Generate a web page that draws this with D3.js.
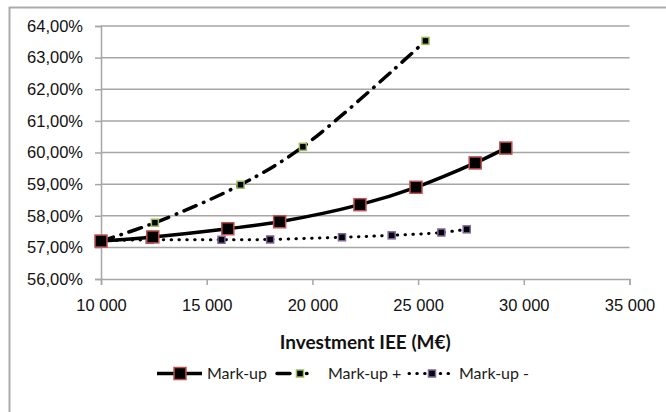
<!DOCTYPE html>
<html>
<head>
<meta charset="utf-8">
<script src="https://cdn.jsdelivr.net/npm/d3@7"></script>
<style>
  html, body { margin: 0; padding: 0; background: #fff; }
  svg { display: block; }
</style>
</head>
<body>
<svg id="chart" width="666" height="412"></svg>
<script>
// Investment (M€) and mark-up rates for each scenario
const markupX      = [10000, 12450, 16000, 18450, 22250, 24900, 27700, 29150];
const markupY      = [0.5720, 0.5733, 0.5759, 0.5781, 0.5835, 0.5890, 0.5967, 0.6014];
const markupPlusX  = [10000, 12550, 16600, 19550, 25350];
const markupPlusY  = [0.5720, 0.5778, 0.5898, 0.6018, 0.6353];
const markupMinusX = [10000, 12300, 15700, 18000, 21400, 23750, 26100, 27300];
const markupMinusY = [0.5721, 0.5724, 0.5724, 0.5725, 0.5732, 0.5738, 0.5747, 0.5757];

const xTicks = [10000, 15000, 20000, 25000, 30000, 35000];
const yTicks = [0.56, 0.57, 0.58, 0.59, 0.60, 0.61, 0.62, 0.63, 0.64];
const seriesNames = ["Mark-up", "Mark-up +", "Mark-up -"];
const xTitle = "Investment IEE (M€)";

const svg = d3.select("#chart");

const x = d3.scaleLinear().domain([10000, 35000]).range([101, 629.5]);
const y = d3.scaleLinear().domain([0.56, 0.64]).range([279, 26]);

const frFmt = d3.formatLocale({ decimal: ",", thousands: "\u00a0", grouping: [3], currency: ["", "€"] });
const pctFmt = frFmt.format(".2%");
const numFmt = frFmt.format(",d");

// outer frame (top and left edges)
svg.append("path")
  .attr("d", "M9.5,412 L9.5,7.5 L666,7.5")
  .attr("fill", "none").attr("stroke", "#ababab").attr("stroke-width", 2);

// horizontal gridlines
svg.append("g").selectAll("line").data(yTicks.slice(1)).join("line")
  .attr("x1", x(10000)).attr("x2", x(35000))
  .attr("y1", d => y(d)).attr("y2", d => y(d))
  .attr("stroke", "#a6a6a6").attr("stroke-width", 1.5);

// y axis
const yAxis = svg.append("g").attr("transform", `translate(${x(10000)},0)`)
  .call(d3.axisLeft(y).tickValues(yTicks).tickFormat(pctFmt).tickSize(6).tickPadding(12));
// x axis
const xAxis = svg.append("g").attr("transform", `translate(0,${y(0.56)})`)
  .call(d3.axisBottom(x).tickValues(xTicks).tickFormat(numFmt).tickSize(6).tickPadding(14));

[yAxis, xAxis].forEach(g => {
  g.select(".domain").attr("stroke", "#a6a6a6").attr("stroke-width", 1.5);
  g.selectAll(".tick line").attr("stroke", "#a6a6a6").attr("stroke-width", 1.5);
  g.selectAll("text").attr("fill", "#111")
    .style("font-family", "'Liberation Sans', Arial, sans-serif").style("font-size", "16.5px");
});

// axis title
svg.append("text")
  .attr("x", (x(10000) + x(35000)) / 2).attr("y", 348.5)
  .attr("text-anchor", "middle")
  .style("font-family", "Lato, 'Open Sans', sans-serif").style("font-weight", "bold")
  .style("font-size", "19px").attr("fill", "#111")
  .text(xTitle);

const series = [
  { name: seriesNames[0], xs: markupX, ys: markupY, dash: null, width: 3.5, mSize: 12, mStroke: "#c0504d", cap: "butt" },
  { name: seriesNames[1], xs: markupPlusX, ys: markupPlusY, dash: "13,8,0.5,8", width: 3.5, mSize: 7, mStroke: "#9bbb59", cap: "round" },
  { name: seriesNames[2], xs: markupMinusX, ys: markupMinusY, dash: "0.5,7.3", width: 3, mSize: 7, mStroke: "#8064a2", cap: "round" }
];

const line = d3.line().x(d => x(d[0])).y(d => y(d[1])).curve(d3.curveCatmullRom.alpha(0.5));

// draw in reverse so the main series sits on top
series.slice().reverse().forEach(s => {
  const pts = s.xs.map((v, i) => [v, s.ys[i]]);
  svg.append("path").datum(pts)
    .attr("d", line)
    .attr("fill", "none").attr("stroke", "#000")
    .attr("stroke-width", s.width)
    .attr("stroke-linecap", s.cap)
    .attr("stroke-dasharray", s.dash);
  svg.append("g").selectAll("rect").data(pts).join("rect")
    .attr("x", d => x(d[0]) - s.mSize / 2).attr("y", d => y(d[1]) - s.mSize / 2)
    .attr("width", s.mSize).attr("height", s.mSize)
    .attr("fill", "#000").attr("stroke", s.mStroke).attr("stroke-width", 1.5);
});

// legend
const legendY = 373.5;
const legendItems = [
  { s: series[0], x0: 157, x1: 202, mx: 180, tx: 207 },
  { s: series[1], x0: 277, x1: 307, mx: 300, tx: 328 },
  { s: series[2], x0: 409, x1: 452, mx: 432, tx: 459 }
];
const lg = svg.append("g");
legendItems.forEach(it => {
  lg.append("line")
    .attr("x1", it.x0).attr("x2", it.x1).attr("y1", legendY).attr("y2", legendY)
    .attr("stroke", "#000").attr("stroke-width", it.s.width)
    .attr("stroke-linecap", it.s.cap).attr("stroke-dasharray", it.s.dash);
  lg.append("rect")
    .attr("x", it.mx - it.s.mSize / 2).attr("y", legendY - it.s.mSize / 2)
    .attr("width", it.s.mSize).attr("height", it.s.mSize)
    .attr("fill", "#000").attr("stroke", it.s.mStroke).attr("stroke-width", 1.5);
  lg.append("text")
    .attr("x", it.tx).attr("y", legendY).attr("dy", "0.35em")
    .style("font-family", "Lato, 'Open Sans', sans-serif").style("font-size", "16px")
    .attr("fill", "#1a1a1a")
    .text(it.s.name);
});
</script>
</body>
</html>
